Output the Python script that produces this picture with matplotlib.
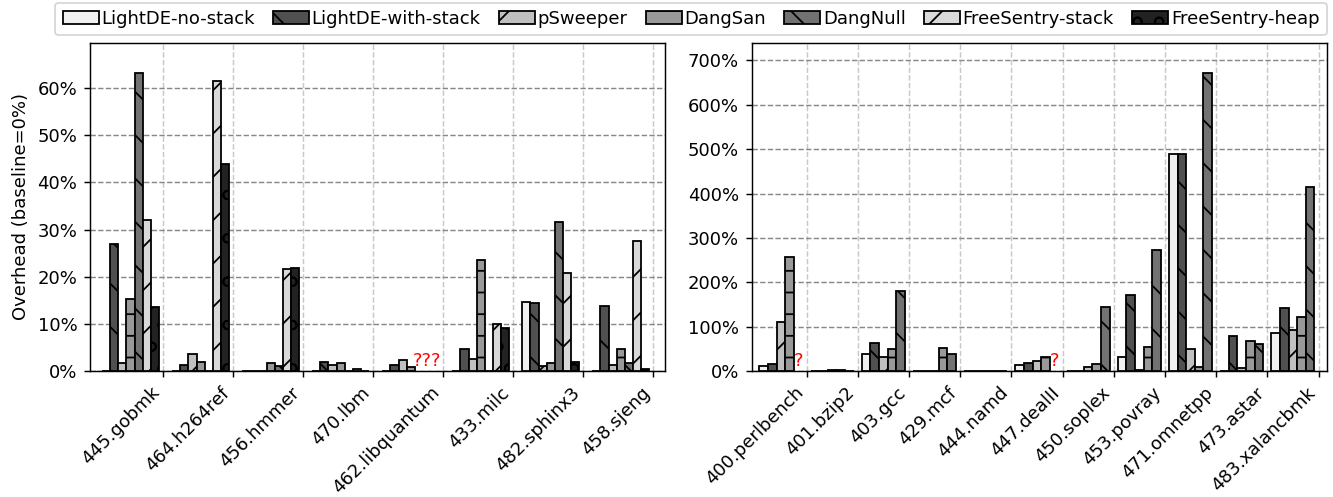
import numpy as np
import matplotlib
matplotlib.use("Agg")
import matplotlib.pyplot as plt
from matplotlib.ticker import MultipleLocator, PercentFormatter

nan = np.nan

series_names = ['LightDE-no-stack', 'LightDE-with-stack', 'pSweeper', 'DangSan',
                'DangNull', 'FreeSentry-stack', 'FreeSentry-heap']

left_benchmarks = ['445.gobmk', '464.h264ref', '456.hmmer', '470.lbm',
                   '462.libquantum', '433.milc', '482.sphinx3', '458.sjeng']
no_stack_L = [0, 0, 0, 0, 0, 0, 14.65, 0]
with_stack_L = [27.0, 1.27, 0, 2.0, 1.3, 4.6, 14.4, 13.8]
psweeper_L = [1.7, 3.6, 0, 1.3, 2.4, 2.5, 1.05, 1.2]
dangsan_L = [15.2, 2.0, 1.8, 1.6, 0.9, 23.6, 1.6, 4.65]
dangnull_L = [63.3, 0, 1.1, 0, nan, 0, 31.7, 1.8]
fs_stack_L = [32.1, 61.5, 21.6, 0.5, nan, 9.9, 20.8, 27.6]
fs_heap_L = [13.5, 43.9, 21.8, 0, nan, 9.2, 2.0, 0.5]

right_benchmarks = ['400.perlbench', '401.bzip2', '403.gcc', '429.mcf', '444.namd',
                    '447.dealII', '450.soplex', '453.povray', '471.omnetpp',
                    '473.astar', '483.xalancbmk']
no_stack_R = [12, 1, 38, 0, 1, 12.7, 0, 30.7, 489, 0, 86]
with_stack_R = [15, 1, 62, 0, 1, 18.7, 0, 171, 489, 78.6, 142]
psweeper_R = [111, 3, 32, 0, 1, 22.5, 10, 1.5, 48.7, 6, 92]
dangsan_R = [257, 3, 49, 51, 1, 32, 15, 54.7, 8.2, 68, 122]
dangnull_R = [nan, 1, 180, 38, 1, nan, 144.5, 273.5, 672.6, 60.7, 414]

# missing-data markers: (panel, benchmark, text)
missing_marks = [('L', '462.libquantum', '???'),
                 ('R', '400.perlbench', '?'),
                 ('R', '447.dealII', '?')]

colors = ['#f0f0f0', '#505050', '#c0c0c0', '#999999', '#727272', '#d9d9d9', '#222222']
hatches = [None, '\\', '/', '-', '\\', '/', 'o']

plt.rcParams['hatch.linewidth'] = 1.0
plt.rcParams['font.size'] = 10

fig = plt.figure(figsize=(1333 / 130, 497 / 130), dpi=130)
axL = fig.add_axes([90 / 1333, 126 / 497, 575 / 1333, 328.3 / 497])
axR = fig.add_axes([751.7 / 1333, 126 / 497, 575.6 / 1333, 328.3 / 497])

left_data = [no_stack_L, with_stack_L, psweeper_L, dangsan_L, dangnull_L, fs_stack_L, fs_heap_L]
right_data = [no_stack_R, with_stack_R, psweeper_R, dangsan_R, dangnull_R]


def draw(ax, cats, data, w, xlim, ystep):
    x = np.arange(len(cats))
    n = len(data)
    handles = []
    for j, vals in enumerate(data):
        b = ax.bar(x + (j - n) * w, vals, width=w, color=colors[j], hatch=hatches[j],
                   edgecolor='black', linewidth=1.0, label=series_names[j], zorder=3)
        handles.append(b)
    ax.set_xticks(x)
    ax.set_xticklabels(cats, rotation=45, ha='right', fontsize=10)
    ax.set_xlim(*xlim)
    vmax = np.nanmax(np.array(data, dtype=float))
    ax.set_ylim(0, vmax * 1.1)
    ax.yaxis.set_major_locator(MultipleLocator(ystep))
    ax.yaxis.set_major_formatter(PercentFormatter(xmax=100, decimals=0))
    ax.tick_params(axis='y', labelsize=10)
    ax.set_axisbelow(True)
    ax.yaxis.grid(True, linestyle='--', color='#888888', linewidth=0.8)
    ax.xaxis.grid(True, linestyle='--', color='#c8c8c8', linewidth=0.8)
    return handles, x


hL, xL = draw(axL, left_benchmarks, left_data, 0.116, (-1.043, 7.167), 10)
hR, xR = draw(axR, right_benchmarks, right_data, 0.168, (-1.074, 10.168), 100)
axL.set_ylabel('Overhead (baseline=0%)', fontsize=10)

for panel, bench, txt in missing_marks:
    if panel == 'L':
        i = left_benchmarks.index(bench)
        axL.text(i - 2 * 0.116, 0.2, txt, color='red', ha='center', va='bottom', fontsize=10)
    else:
        i = right_benchmarks.index(bench)
        axR.text(i - 1 * 0.168, 2, txt, color='red', ha='center', va='bottom', fontsize=10)

fig.legend(hL, series_names, ncol=7, loc='upper center', bbox_to_anchor=(0.5184, 0.998),
           fontsize=10, handlelength=2.0, handletextpad=0.15, columnspacing=1.0,
           borderpad=0.4, borderaxespad=0.1, frameon=True)

fig.savefig('out.png', dpi=130)
